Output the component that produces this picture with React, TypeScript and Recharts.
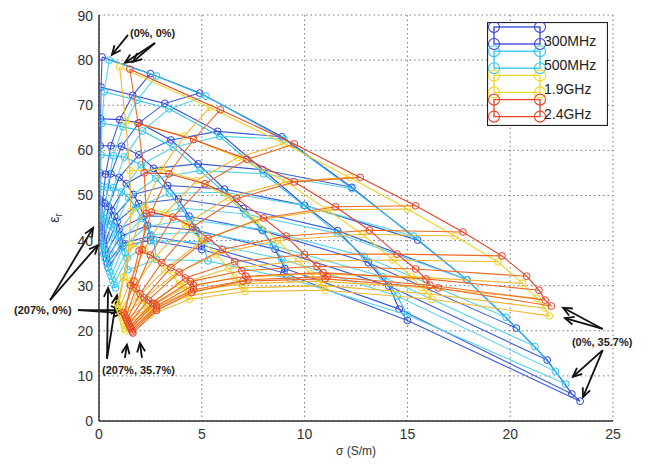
import React from "react";
import {CartesianGrid, Legend, ReferenceDot, ReferenceLine, Scatter, ScatterChart, XAxis, YAxis} from "recharts";

type Pt = [number, number];

const freqLabels = ["300MHz", "500MHz", "1.9GHz", "2.4GHz"];
const xTicks = [0, 5, 10, 15, 20, 25];
const yTicks = [0, 10, 20, 30, 40, 50, 60, 70, 80, 90];

// [sigma, eps_r]; one array per salt level (0% .. 35.7%), each going sugar 0% .. 207%
const grid300: Pt[][] = [
    [[0.15, 80.7], [0.1, 74], [0.08, 67], [0.06, 61], [0.05, 55], [0.05, 49], [0.05, 43]],
    [[2.5, 77], [1.64, 72.2], [1.01, 66.8], [0.58, 61], [0.32, 54.7], [0.17, 48.5], [0.09, 42.3]],
    [[4.9, 72.7], [3.2, 70.4], [1.95, 66.1], [1.1, 60.9], [0.58, 54.8], [0.29, 48.2], [0.13, 41.5]],
    [[8.9, 63], [5.77, 64.2], [3.5, 62.3], [1.94, 59], [0.98, 54], [0.46, 47.5], [0.17, 40.7]],
    [[12.3, 51.8], [7.96, 55.7], [4.83, 57], [2.66, 56], [1.33, 52.6], [0.61, 46.7], [0.21, 39.8]],
    [[15.5, 40.1], [10.0, 47.8], [6.1, 51.4], [3.34, 52.2], [1.67, 50.2], [0.76, 45.4], [0.25, 38.9]],
    [[17.9, 31.3], [11.6, 42.2], [7.02, 47.1], [3.86, 49.2], [1.93, 48.2], [0.88, 44.2], [0.29, 38]],
    [[20.3, 20.6], [13.1, 35.1], [7.96, 42.2], [4.38, 45.4], [2.19, 45.4], [1.0, 42.6], [0.33, 37]],
    [[21.8, 13.5], [14.1, 29.9], [8.56, 38.1], [4.72, 42.3], [2.37, 43.3], [1.09, 41], [0.37, 36]],
    [[23.0, 6.0], [14.6, 24.8], [9.04, 33.8], [4.98, 39], [2.51, 41], [1.16, 39.4], [0.41, 35]],
    [[23.4, 4.4], [15.0, 22.3], [9.0, 32.8], [5.0, 38], [2.5, 40], [1.15, 38.8], [0.45, 34]],
];

const grid500: Pt[][] = [
    [[0.5, 80], [0.25, 73], [0.15, 66], [0.1, 59], [0.1, 52], [0.1, 45.5], [0.1, 39]],
    [[2.8, 76.5], [1.85, 71.1], [1.17, 65.2], [0.7, 58.8], [0.41, 51.8], [0.25, 44.9], [0.17, 38]],
    [[5.2, 72], [3.41, 69.2], [2.12, 64.3], [1.23, 58.5], [0.69, 51.7], [0.39, 44.3], [0.24, 37]],
    [[9.0, 62.5], [5.87, 63.1], [3.61, 60.7], [2.05, 56.8], [1.09, 50.8], [0.57, 43.4], [0.31, 36]],
    [[12.3, 51.5], [8.01, 54.8], [4.91, 55.5], [2.76, 53.8], [1.45, 49.5], [0.74, 42.8], [0.38, 35]],
    [[15.3, 41], [9.95, 47.8], [6.09, 50.7], [3.42, 50.5], [1.79, 47.3], [0.9, 41.2], [0.45, 34]],
    [[17.9, 31.3], [11.6, 41.6], [7.12, 45.9], [3.99, 47.2], [2.08, 44.9], [1.04, 39.7], [0.52, 33]],
    [[19.8, 23], [12.9, 36.5], [7.89, 42.5], [4.43, 44.6], [2.32, 43.1], [1.17, 38.6], [0.59, 32.1]],
    [[21.2, 16.5], [13.8, 32], [8.47, 38.9], [4.77, 41.9], [2.51, 41.3], [1.28, 37.3], [0.66, 31.2]],
    [[22.2, 11], [14.5, 27.7], [8.89, 35.9], [5.02, 39.7], [2.66, 39.9], [1.37, 36.1], [0.73, 30.3]],
    [[22.7, 8.2], [15.0, 23.5], [9.3, 31.5], [5.3, 35.5], [2.8, 35.8], [1.4, 33.5], [0.8, 29.5]],
];

const grid1900: Pt[][] = [
    [[1.0, 78.5], [1.3, 66.5], [1.5, 55.5], [1.55, 46.5], [1.45, 38.5], [1.2, 32], [0.9, 26]],
    [[5.4, 69.5], [4.15, 63.2], [3.05, 55.8], [2.2, 47.5], [1.6, 39.1], [1.2, 31.8], [0.95, 25.4]],
    [[9.0, 61.5], [6.75, 58.4], [4.75, 53.3], [3.25, 46.1], [2.2, 38], [1.5, 30.9], [1.0, 24.8]],
    [[12.2, 54], [9.1, 53], [6.3, 49.6], [4.2, 43.6], [2.7, 36.1], [1.7, 29.7], [1.05, 24.2]],
    [[15.0, 47], [11.1, 46.8], [7.6, 44.5], [5.0, 40], [3.2, 33.5], [1.9, 27.5], [1.1, 23.6]],
    [[17.3, 41], [12.8, 41.4], [8.7, 40], [5.7, 37], [3.6, 32.3], [2.1, 26.8], [1.13, 23]],
    [[19.4, 35.3], [14.3, 35.7], [9.7, 35.4], [6.3, 33.8], [3.9, 30.3], [2.3, 25.5], [1.17, 22.3]],
    [[20.6, 30.5], [15.2, 32], [10.3, 32.6], [6.6, 31.8], [4.1, 29.5], [2.4, 25], [1.2, 21.7]],
    [[21.3, 27.2], [15.7, 29.6], [10.7, 31], [6.9, 30.4], [4.3, 28.6], [2.45, 24.6], [1.25, 21.1]],
    [[21.7, 25], [16.0, 28.2], [10.9, 30], [7.0, 29.5], [4.35, 27.8], [2.5, 24], [1.28, 20.5]],
    [[21.9, 23.3], [16.2, 27], [11.0, 29], [7.1, 28.7], [4.4, 27], [2.5, 23.5], [1.3, 20]],
];

const grid2400: Pt[][] = [
    [[1.5, 78], [1.9, 66], [2.2, 55], [2.3, 46], [2.1, 38], [1.7, 31], [1.2, 24]],
    [[5.9, 69], [4.6, 62.4], [3.4, 54.8], [2.55, 46.3], [1.95, 37.7], [1.53, 30.1], [1.25, 23.5]],
    [[9.5, 61.4], [7.2, 58], [5.15, 52.6], [3.6, 45.2], [2.5, 36.8], [1.8, 29.4], [1.3, 23]],
    [[12.7, 54], [9.5, 53], [6.7, 49.3], [4.55, 43], [3.05, 35.1], [2.0, 28.2], [1.35, 22.5]],
    [[15.4, 47.7], [11.5, 47.5], [8.0, 45], [5.3, 40.5], [3.5, 34], [2.2, 27.3], [1.4, 22]],
    [[17.7, 41.9], [13.15, 42.3], [9.1, 41], [6.0, 38], [3.9, 33], [2.4, 26.8], [1.45, 21.5]],
    [[19.6, 36.6], [14.5, 37], [10.0, 36.9], [6.6, 35.3], [4.2, 31.7], [2.6, 26.1], [1.5, 21]],
    [[20.8, 32.1], [15.4, 33.7], [10.6, 34.3], [6.95, 33.3], [4.45, 30.9], [2.7, 26], [1.55, 20.6]],
    [[21.4, 29], [15.9, 31.5], [10.9, 32.9], [7.15, 32.1], [4.6, 30.1], [2.8, 25.5], [1.6, 20.2]],
    [[21.7, 26.8], [16.1, 30.1], [11.1, 32], [7.25, 31.3], [4.6, 29.1], [2.8, 25], [1.62, 19.8]],
    [[22.0, 25.5], [16.5, 29.5], [11.0, 31.5], [7.0, 31.0], [4.5, 28.5], [2.8, 24.5], [1.65, 19.5]],
];

// annotation text (left edge, vertical centre) and arrows, in data units
const notes = [
    {text: "(0%, 0%)", x: 1.51, y: 86},
    {text: "(207%, 0%)", x: -4.13, y: 24.6},
    {text: "(207%, 35.7%)", x: 0.15, y: 11.3},
    {text: "(0%, 35.7%)", x: 23.0, y: 17.5},
];
const arrows: [Pt, Pt][] = [
    [[1.41, 85.6], [0.63, 81.2]],
    [[2.72, 83.8], [1.26, 79.4]],
    [[2.72, 83.8], [1.65, 79.6]],
    [[-2.38, 26.8], [-0.29, 42.8]],
    [[-2.38, 26.8], [-0.05, 39]],
    [[-1.02, 24.6], [1.02, 24.6]],
    [[-1.02, 24.6], [1.17, 23.9]],
    [[0.39, 13.8], [0.44, 29.5]],
    [[0.39, 13.8], [0.88, 27.9]],
    [[1.26, 14], [1.36, 16.9]],
    [[2.09, 14], [1.99, 17.3]],
    [[24.5, 20.4], [22.57, 25.1]],
    [[24.5, 20.4], [22.66, 22.8]],
    [[24.5, 15.7], [23.05, 9.8]],
    [[24.5, 15.7], [23.54, 5.3]],
];

const font = "'Liberation Sans', Arial, sans-serif";
const meshes = [
    {grid: grid300, row: "#2f3fd6", col: "#3a5ce2"},
    {grid: grid500, row: "#29c3f0", col: "#55d4ee"},
    {grid: grid1900, row: "#f2d41f", col: "#f1b832"},
    {grid: grid2400, row: "#e8402a", col: "#ee6a24"},
];
const legendColors = ["#3340d8", "#2cc6f2", "#f2d820", "#e8452a"];

const toPts = (line: Pt[]) => line.map(([x, y]) => ({x, y}));

const ring = (color: string) => (p: any) =>
    <circle cx={p.cx} cy={p.cy} r={3.4} fill="none" stroke={color} strokeWidth={1}/>;
const noMark = () => <g/>;

const Arrow = (p: any) => {
    const {x1, y1, x2, y2} = p;
    const a = Math.atan2(y2 - y1, x2 - x1);
    const L = 9, W = 4;
    const bx = x2 - L * Math.cos(a), by = y2 - L * Math.sin(a);
    const w1 = `${bx - W * Math.sin(a)},${by + W * Math.cos(a)}`;
    const w2 = `${bx + W * Math.sin(a)},${by - W * Math.cos(a)}`;
    return (
        <g>
            <line x1={x1} y1={y1} x2={x2} y2={y2} stroke="#111" strokeWidth={1.8}/>
            <polyline points={`${w1} ${x2},${y2} ${w2}`} fill="none" stroke="#111" strokeWidth={1.8}/>
        </g>
    );
};

const noteShape = (text: string) => (p: any) =>
    <text x={p.cx} y={p.cy} dominantBaseline="central" fontSize={11} fontWeight={700}
          fontFamily={font} fill="#222">{text}</text>;

const EpsLabel = (props: any) => {
    const vb = props.viewBox;
    const cx = vb.x + 20, cy = vb.y + vb.height / 2;
    return (
        <text x={cx} y={cy} transform={`rotate(-90 ${cx} ${cy})`} textAnchor="middle"
              fontSize={14} fontFamily={font} fill="#333">
            ε<tspan fontSize={10} dy={3}>r</tspan>
        </text>
    );
};

const LegendBox = () => (
    <svg width={121} height={104}>
        <rect x={0.5} y={0.5} width={120} height={103} fill="#fff" stroke="#222" strokeWidth={1.2}/>
        {freqLabels.map((name, k) => {
            const top = 5 + 24.2 * k;
            const c = legendColors[k];
            return (
                <g key={name}>
                    <rect x={7} y={top} width={46} height={17} fill="none" stroke={c} strokeWidth={1.3}/>
                    {[7, 53].map((cx) => [top, top + 17].map((cy) =>
                        <circle key={`${cx}-${cy}`} cx={cx} cy={cy} r={5.5} fill="none" stroke={c} strokeWidth={1.1}/>))}
                    <text x={57} y={top + 14} dominantBaseline="central" fontSize={14}
                          fontFamily={font} fill="#222">{name}</text>
                </g>
            );
        })}
    </svg>
);

const App: React.FC = () => {
    const series: React.ReactNode[] = [];
    meshes.forEach((m, k) => {
        const cols = m.grid.map(toPts);
        const rows = m.grid[0].map((_, j) => toPts(m.grid.map((c) => c[j])));
        rows.forEach((d, j) => series.push(
            <Scatter key={`r${k}-${j}`} data={d} line={{stroke: m.row, strokeWidth: 1.1}}
                     shape={noMark} legendType="none" isAnimationActive={false}/>
        ));
        cols.forEach((d, i) => series.push(
            <Scatter key={`c${k}-${i}`} data={d} line={{stroke: m.col, strokeWidth: 1.1}}
                     shape={ring(m.row)} legendType="none" isAnimationActive={false}/>
        ));
    });

    return (
        <div style={{fontFamily: font}}>
            <ScatterChart width={632} height={452} margin={{top: 7, right: 27, bottom: 0, left: 31}}>
                <CartesianGrid strokeDasharray="1.5 3" stroke="#777"/>
                <XAxis type="number" dataKey="x" domain={[0, 25]} ticks={xTicks} allowDataOverflow
                       height={39} tickLine={false} tickSize={0} tickMargin={8}
                       axisLine={{stroke: "#333", strokeWidth: 1.5}}
                       tick={{fontSize: 14, fill: "#333", fontFamily: font}}
                       label={{value: "σ (S/m)", position: "insideBottom", offset: 5, fontSize: 12,
                           fill: "#333", fontFamily: font}}/>
                <YAxis type="number" dataKey="y" domain={[0, 90]} ticks={yTicks} allowDataOverflow
                       width={60} tickLine={false} tickSize={0} tickMargin={6}
                       axisLine={{stroke: "#333", strokeWidth: 1.5}}
                       tick={{fontSize: 14, fill: "#333", fontFamily: font}}
                       label={<EpsLabel/>}/>
                {series}
                {arrows.map((seg, n) => (
                    <ReferenceLine key={`a${n}`} ifOverflow="visible"
                                   segment={[{x: seg[0][0], y: seg[0][1]}, {x: seg[1][0], y: seg[1][1]}]}
                                   shape={Arrow}/>
                ))}
                {notes.map((t) => (
                    <ReferenceDot key={t.text} x={t.x} y={t.y} r={1} ifOverflow="visible"
                                  shape={noteShape(t.text)}/>
                ))}
                <Legend content={LegendBox} layout="horizontal" verticalAlign="middle" align="center"
                        wrapperStyle={{left: 479, top: 14, width: 121, height: 104}}/>
            </ScatterChart>
        </div>
    );
};

export default App;
